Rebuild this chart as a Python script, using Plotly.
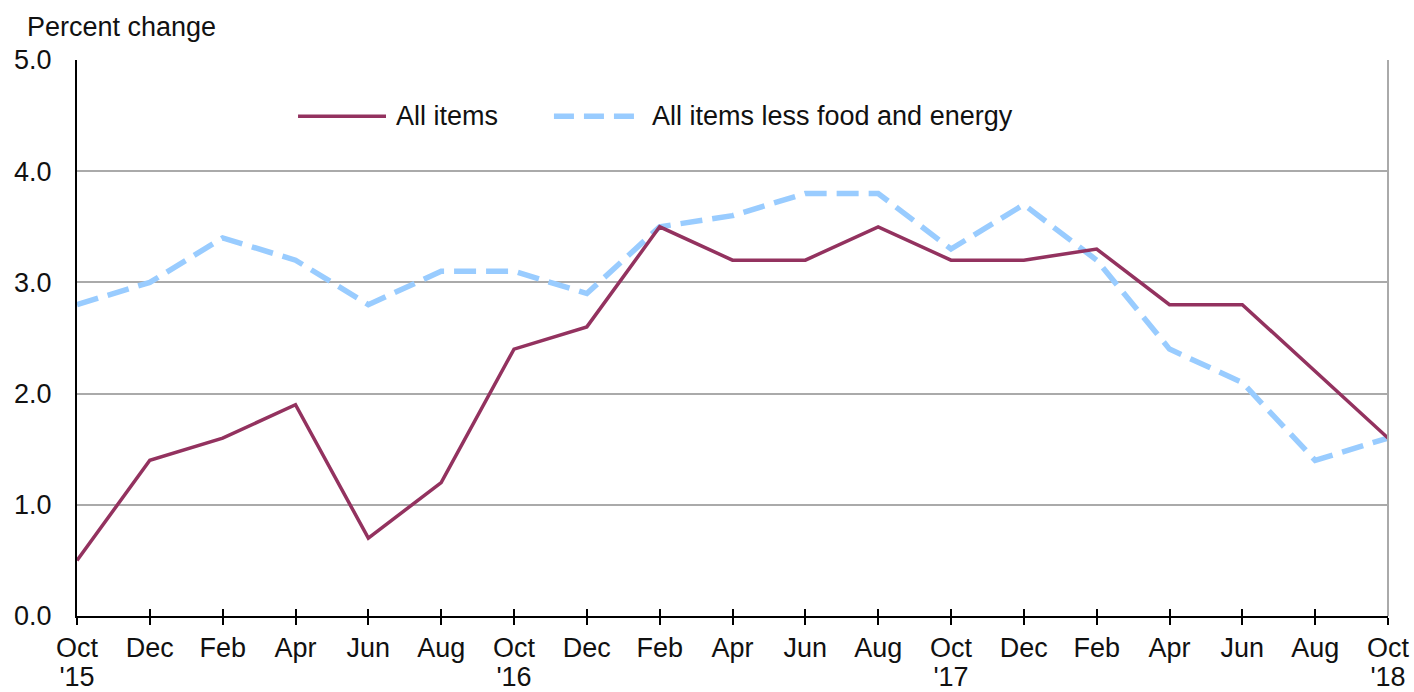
import plotly.graph_objects as go

months = ["Oct", "Dec", "Feb", "Apr", "Jun", "Aug", "Oct", "Dec", "Feb",
          "Apr", "Jun", "Aug", "Oct", "Dec", "Feb", "Apr", "Jun", "Aug", "Oct"]
years = ["'15", "", "", "", "", "", "'16", "", "",
         "", "", "", "'17", "", "", "", "", "", "'18"]
all_items = [0.5, 1.4, 1.6, 1.9, 0.7, 1.2, 2.4, 2.6, 3.5, 3.2, 3.2, 3.5, 3.2, 3.2, 3.3, 2.8, 2.8, 2.2, 1.6]
core_items = [2.8, 3.0, 3.4, 3.2, 2.8, 3.1, 3.1, 2.9, 3.5, 3.6, 3.8, 3.8, 3.3, 3.7, 3.2, 2.4, 2.1, 1.4, 1.6]
y_ticks = [0, 1, 2, 3, 4, 5]
y_labels = ["0.0", "1.0", "2.0", "3.0", "4.0", "5.0"]

PURPLE = "#93325F"
BLUE = "#99CCFF"
FONT = "Liberation Sans, Arial, sans-serif"
TXT = "#111111"
FS = 27

x = list(range(len(months)))

fig = go.Figure()
fig.add_trace(go.Scatter(x=x, y=core_items, mode="lines", name="All items less food and energy",
                         line=dict(color=BLUE, width=5.5, dash="22px,10px"), showlegend=False))
fig.add_trace(go.Scatter(x=x, y=all_items, mode="lines", name="All items",
                         line=dict(color=PURPLE, width=3.5), showlegend=False))
# dummy trace on overlay axis: inner tick marks + year labels
fig.add_trace(go.Scatter(x=[x[0]], y=[0], xaxis="x2", mode="lines", showlegend=False,
                         hoverinfo="skip", line=dict(width=0)))

fig.update_layout(
    width=1414, height=692,
    margin=dict(l=77, r=26, t=60, b=76),
    paper_bgcolor="white", plot_bgcolor="white",
    font=dict(family=FONT, size=FS, color=TXT),
    xaxis=dict(range=[0, len(months) - 1], tickmode="array", tickvals=x, ticktext=months,
               showgrid=False, zeroline=False, showline=True, linecolor="black", linewidth=2,
               ticks="outside", ticklen=7, tickwidth=1.5, tickcolor="black",
               ticklabelstandoff=0, automargin=False,
               tickfont=dict(size=FS, family=FONT, color=TXT)),
    xaxis2=dict(range=[0, len(months) - 1], overlaying="x", side="bottom", tickmode="array",
                tickvals=x, ticktext=years, showgrid=False, zeroline=False, showline=False,
                ticks="inside", ticklen=7, tickwidth=1.5, tickcolor="black", anchor="y",
                ticklabelstandoff=42, automargin=False,
                tickfont=dict(size=FS, family=FONT, color=TXT)),
    yaxis=dict(range=[0, 5], tickmode="array", tickvals=y_ticks, ticktext=y_labels,
               showgrid=True, gridcolor="#AAAAAA", gridwidth=2, zeroline=False,
               showline=True, linecolor="black", linewidth=2, ticks="",
               ticklabelstandoff=18, automargin=False,
               tickfont=dict(size=FS, family=FONT, color=TXT)),
    shapes=[
        dict(type="line", xref="paper", yref="paper", x0=1, x1=1, y0=0, y1=1,
             line=dict(color="#AAAAAA", width=2)),
        dict(type="line", xref="paper", yref="paper", x0=0.1686, x1=0.2357, y0=0.899, y1=0.899,
             line=dict(color=PURPLE, width=3.5)),
        dict(type="line", xref="paper", yref="paper", x0=0.3638, x1=0.4294, y0=0.899, y1=0.899,
             line=dict(color=BLUE, width=5.5, dash="20px,10px")),
    ],
    annotations=[
        dict(text="Percent change", xref="paper", yref="paper", x=-0.0395, y=1.059,
             xanchor="left", yanchor="middle", showarrow=False,
             font=dict(size=FS, family=FONT, color=TXT)),
        dict(text="All items", xref="paper", yref="paper", x=0.2415, y=0.899,
             xanchor="left", yanchor="middle", showarrow=False,
             font=dict(size=FS, family=FONT, color=TXT)),
        dict(text="All items less food and energy", xref="paper", yref="paper", x=0.4368, y=0.899,
             xanchor="left", yanchor="middle", showarrow=False,
             font=dict(size=FS, family=FONT, color=TXT)),
    ],
)

fig.write_html("out.html", config={"displayModeBar": False},
               post_script="document.body.style.margin='0';")
